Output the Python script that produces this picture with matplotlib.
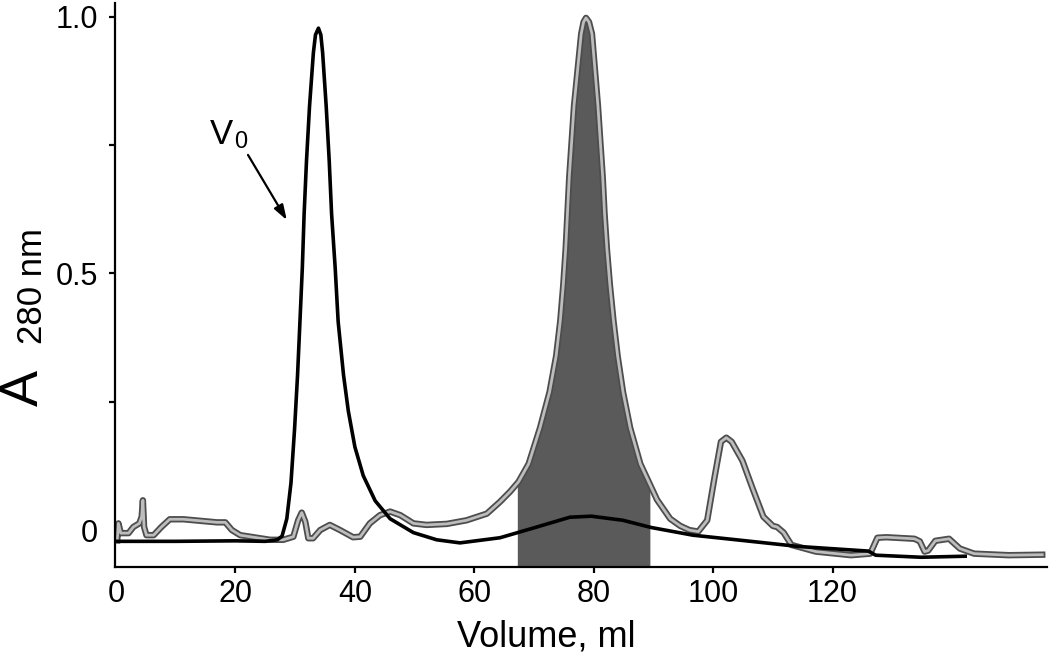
import numpy as np
import matplotlib
matplotlib.use("Agg")
import matplotlib.pyplot as plt
import matplotlib.patheffects as pe

plt.rcParams['font.family'] = ['Liberation Sans', 'DejaVu Sans']

# ---- data ----
black_x = [0, 10, 20, 25, 27.0, 27.8, 28.6, 29.3, 29.9, 30.4, 30.8, 31.2, 31.5, 31.9,
           32.4, 33.05, 33.4, 33.9, 34.3, 34.6, 35.2, 35.7, 36.1, 36.7, 37.2, 38.1,
           38.9, 40.0, 41.4, 43.4, 45.9, 49.8, 53.7, 57.6, 64.3, 70.2, 76.0, 79.6,
           84.9, 89.6, 96.6, 105.5, 114.3, 126.0, 127.2, 134.8, 142.2]
black_y = [-0.022, -0.022, -0.021, -0.022, -0.019, -0.012, 0.022, 0.092, 0.197, 0.302,
           0.406, 0.511, 0.616, 0.720, 0.825, 0.930, 0.965, 0.978, 0.965, 0.930, 0.825,
           0.720, 0.616, 0.511, 0.406, 0.302, 0.232, 0.162, 0.106, 0.057, 0.022,
           -0.005, -0.019, -0.025, -0.015, 0.005, 0.025, 0.027, 0.019, 0.005, -0.010,
           -0.021, -0.032, -0.041, -0.049, -0.053, -0.051]

gray_x = [0.2, 0.4, 0.8, 2.1, 2.9, 3.9, 4.3, 4.5, 4.7, 5.1, 6.3, 7.6, 9.0, 11.3, 14.1,
          16.9, 18.3, 19.4, 20.8, 23.6, 25.8, 28.0, 29.7, 30.5, 31.1, 31.7, 32.2, 33.0,
          34.2, 35.8, 37.5, 39.7, 40.9, 42.5, 44.2, 45.9, 47.6, 49.8, 52.0, 55.4, 58.7,
          62.1, 64.3, 66.0, 67.4, 69.1, 71.0, 72.6, 73.7, 74.4, 74.9, 75.3, 75.6, 75.9,
          76.3, 76.7, 77.3, 77.9, 78.3, 78.7, 79.2, 79.7, 80.2, 80.7, 81.1, 81.5, 81.8,
          82.2, 82.7, 83.3, 84.0, 84.9, 86.1, 87.8, 90.6, 92.8, 94.5, 96.0, 97.5,
          99.0, 100.2, 101.3, 102.2, 103.1, 104.9, 106.6, 108.4, 110.0, 110.7, 111.8,
          113.1, 117.2, 123.1, 126.3, 127.5, 129.0, 133.7, 134.6, 135.4, 136.0, 137.2,
          139.5, 141.3, 143.7, 149.5, 155.1]
gray_y = [-0.020, 0.013, -0.006, -0.006, 0.006, 0.013, 0.026, 0.058, 0.006, -0.010,
          -0.010, 0.006, 0.021, 0.021, 0.018, 0.015, 0.015, 0.000, -0.010, -0.015,
          -0.019, -0.019, -0.013, 0.019, 0.034, 0.016, -0.016, -0.016, 0.000, 0.010,
          0.000, -0.014, -0.013, 0.013, 0.029, 0.036, 0.029, 0.013, 0.010, 0.012, 0.019,
          0.032, 0.055, 0.075, 0.094, 0.129, 0.199, 0.269, 0.339, 0.408, 0.478, 0.548,
          0.618, 0.688, 0.757, 0.827, 0.897, 0.967, 0.990, 0.998, 0.990, 0.967, 0.897,
          0.827, 0.757, 0.688, 0.618, 0.548, 0.478, 0.408, 0.339, 0.269, 0.199, 0.129,
          0.059, 0.022, 0.008, 0.000, -0.003, 0.019, 0.101, 0.172, 0.180, 0.172, 0.135,
          0.081, 0.026, 0.008, 0.006, -0.005, -0.029, -0.042, -0.049, -0.046, -0.015,
          -0.014, -0.017, -0.022, -0.042, -0.040, -0.021, -0.017, -0.036, -0.046,
          -0.049, -0.048]

fraction_range = [67.2, 89.4]

x_ticks = [0, 20, 40, 60, 80, 100, 120]
y_ticks = [0, 0.25, 0.5, 0.75, 1.0]
y_tick_labels = ['0', '', '0.5', '', '1.0']

# ---- figure ----
fig = plt.figure(figsize=(10.5, 6.68), dpi=100)
ax = fig.add_axes([115 / 1050, 1 - 567 / 668, 932 / 1050, 564 / 668])
ax.set_xlim(-0.17, 155.9)
ax.set_ylim(-0.072, 1.027)

# shaded fraction under grey trace
gx = np.array(gray_x)
gy = np.array(gray_y)
inside = (gx > fraction_range[0]) & (gx < fraction_range[1])
fx = np.concatenate([[fraction_range[0]], gx[inside], [fraction_range[1]]])
fy = np.interp(fx, gx, gy)
ax.fill_between(fx, -0.072, fy, color='#5a5a5a', lw=0, zorder=1)

ax.plot(gray_x, gray_y, color='#bdbdbd', lw=2.0, zorder=2, solid_joinstyle='round',
        path_effects=[pe.Stroke(linewidth=4.6, foreground='#4d4d4d'), pe.Normal()])
ax.plot(black_x, black_y, color='black', lw=2.6, zorder=3, solid_joinstyle='round')

# annotation V0
ax.text(17.6, 0.77, 'V', fontsize=25, ha='center', va='center')
ax.text(20.9, 0.757, '0', fontsize=17, ha='center', va='center')
ax.annotate('', xy=(28.6, 0.604), xytext=(22.1, 0.731),
            arrowprops=dict(arrowstyle='-|>,head_length=0.9,head_width=0.3',
                            color='black', lw=1.6, shrinkA=0, shrinkB=0))

# axes styling
for s in ['top', 'right']:
    ax.spines[s].set_visible(False)
for s in ['left', 'bottom']:
    ax.spines[s].set_linewidth(1.6)
ax.set_xticks(x_ticks)
ax.set_xticklabels([str(v) for v in x_ticks])
ax.set_yticks(y_ticks)
ax.set_yticklabels(y_tick_labels)
ax.tick_params(axis='both', direction='out', length=4, width=1.6, labelsize=22)
ax.tick_params(axis='x', pad=5)
ax.tick_params(axis='y', pad=8)
ax.yaxis.get_major_ticks()[0].tick1line.set_visible(False)
ax.xaxis.get_major_ticks()[0].tick1line.set_visible(False)

fig.text(546 / 1050, 1 - 637 / 668, 'Volume, ml', fontsize=26, ha='center', va='center')
fig.text(24 / 1050, 1 - 388 / 668, 'A', fontsize=39, rotation=90, ha='center', va='center')
fig.text(33 / 1050, 1 - 286 / 668, '280 nm', fontsize=25, rotation=90, ha='center', va='center')

fig.savefig('out.png', dpi=100, facecolor='white')
